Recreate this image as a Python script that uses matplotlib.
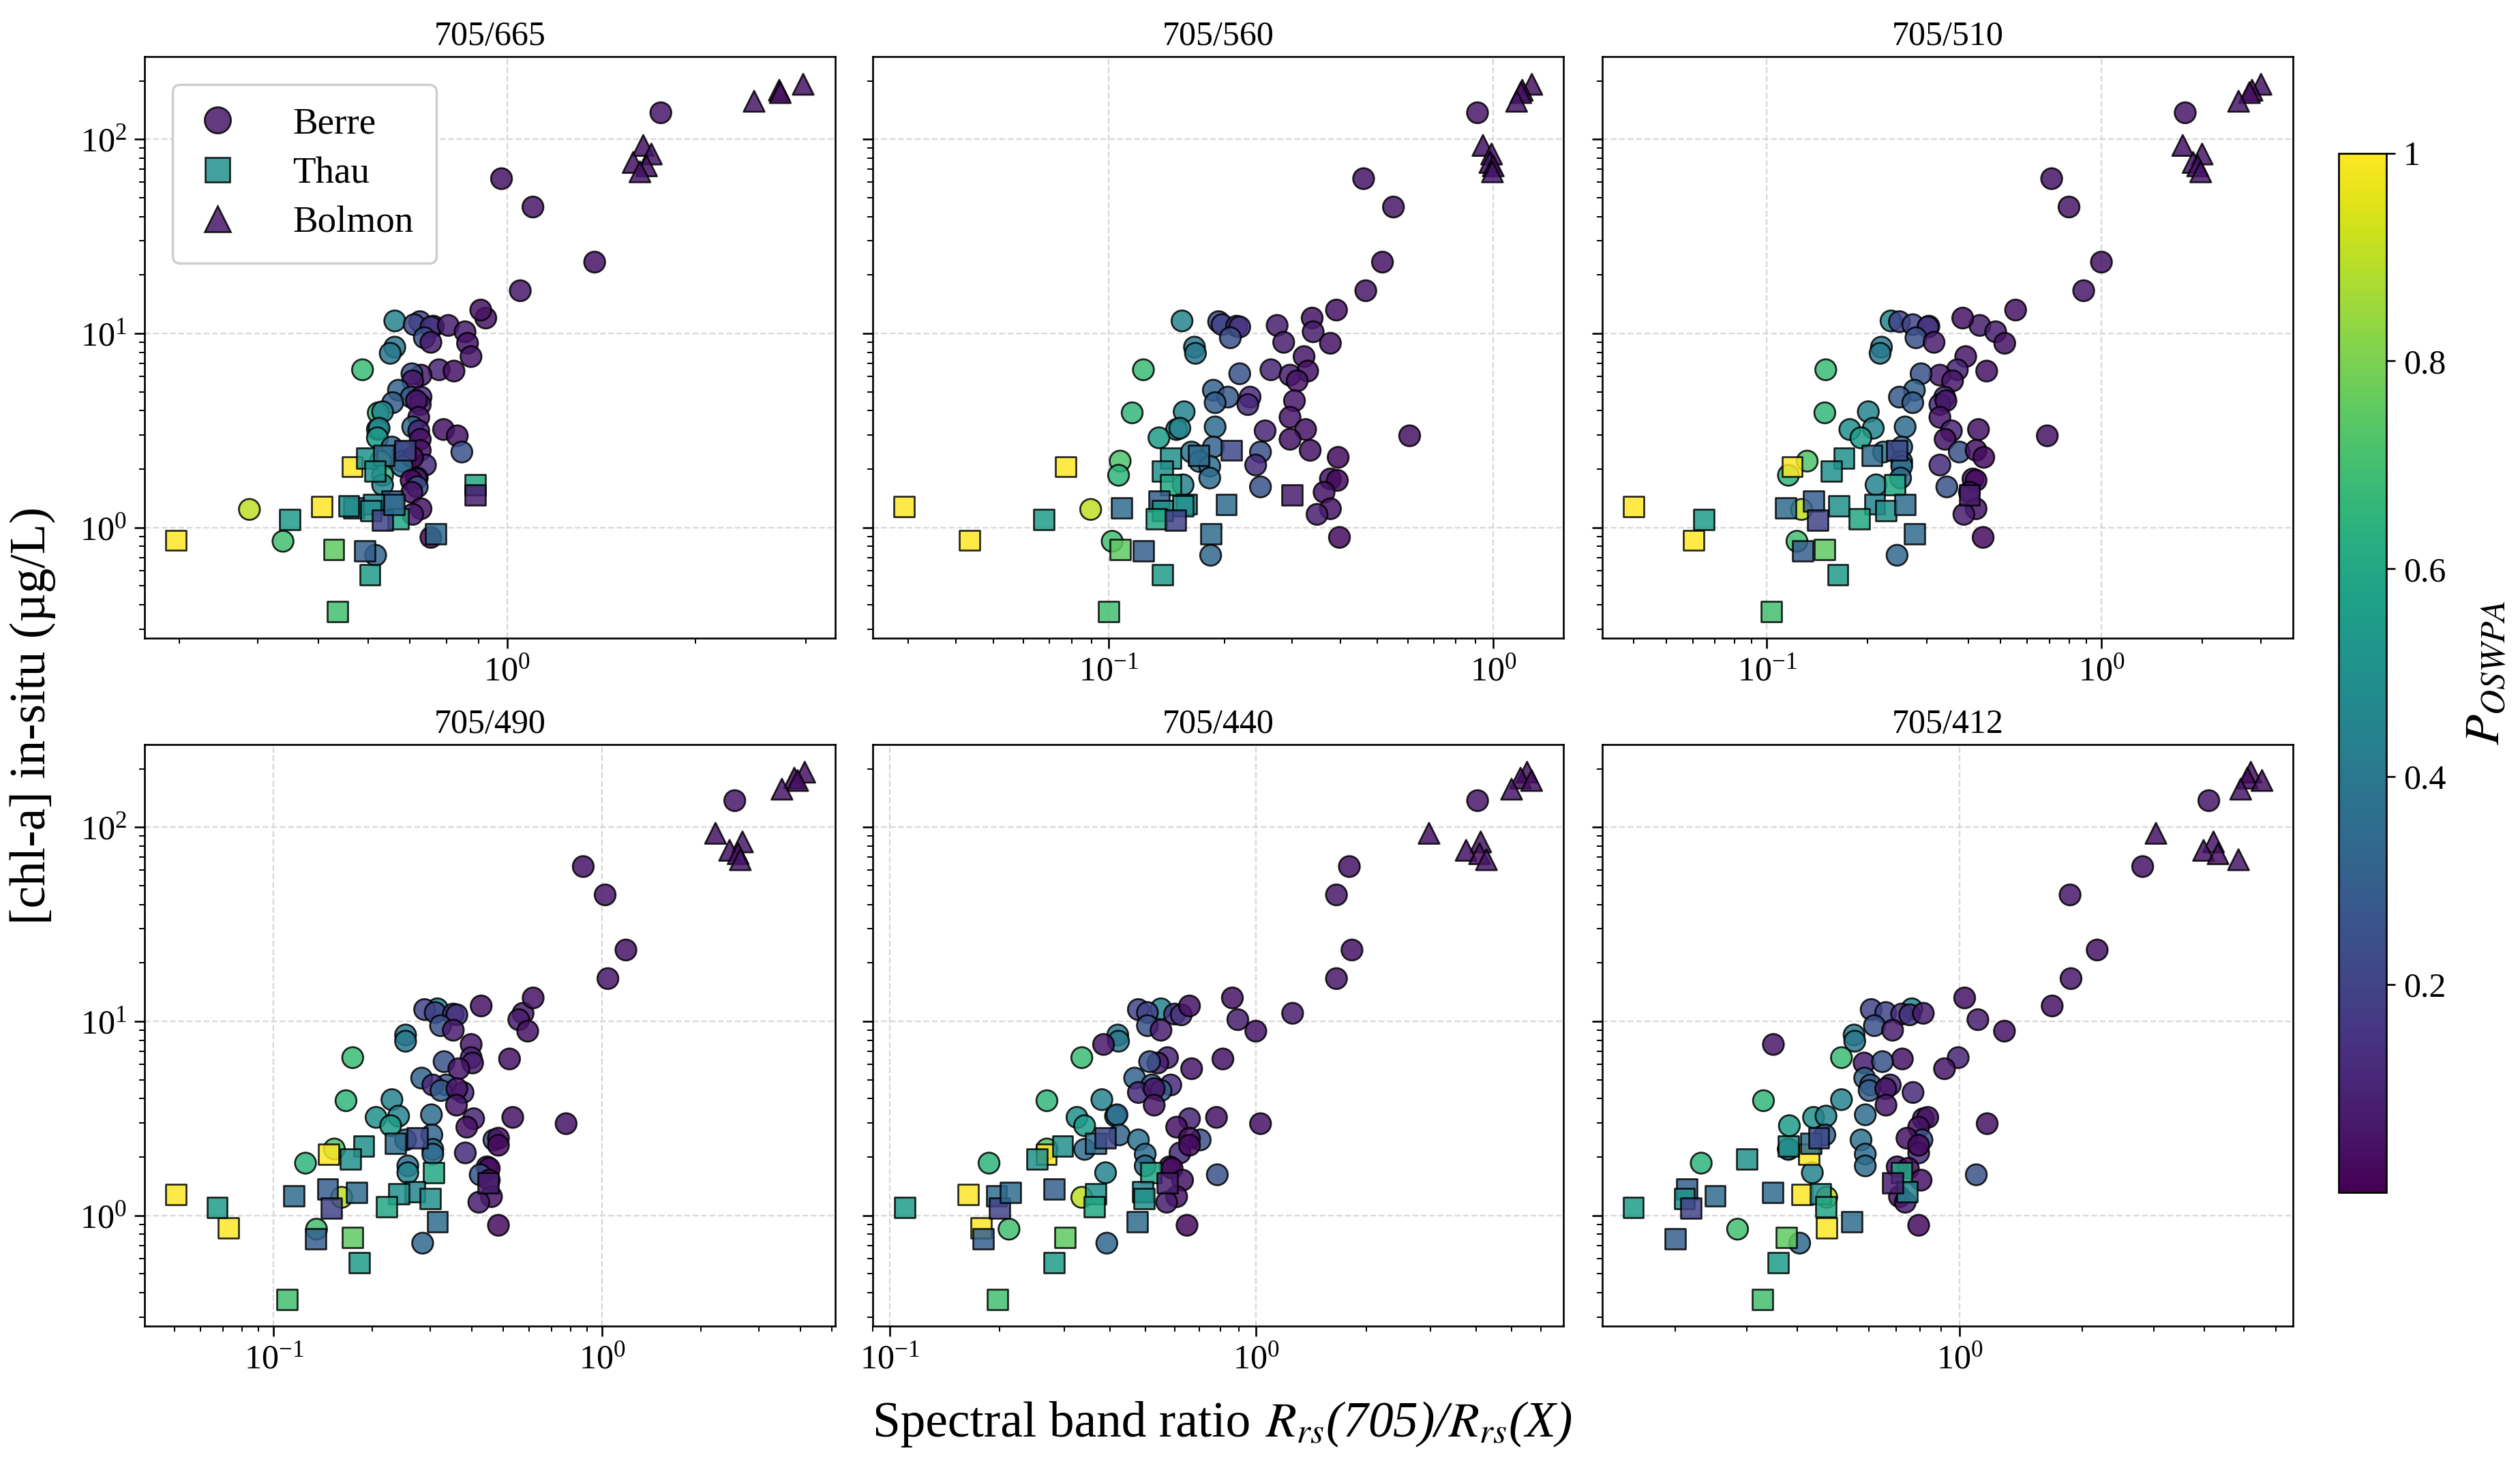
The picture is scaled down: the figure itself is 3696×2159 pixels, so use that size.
import numpy as np
import matplotlib
matplotlib.use("Agg")
import matplotlib.pyplot as plt
from matplotlib.lines import Line2D
from matplotlib.cm import ScalarMappable
from matplotlib.colors import Normalize
from matplotlib.ticker import NullFormatter

plt.rcParams['font.family'] = ['Liberation Serif', 'DejaVu Serif']
plt.rcParams['mathtext.fontset'] = 'stix'

bands = ['705/665', '705/560', '705/510', '705/490', '705/440', '705/412']

# Berre (circles)
berre_chl = [137, 62.7, 44.8, 23.3, 16.6,
             11.6, 11.5, 11.1, 10.9, 10.8, 11.0, 12.0, 10.2, 13.2, 9.5,
             9.0, 8.9, 8.5, 7.9, 7.6, 6.5, 6.5, 6.4, 6.1, 6.2,
             5.7, 5.1, 4.7, 4.7, 4.4, 4.3, 4.5, 3.9, 3.95, 3.7,
             3.2, 3.25, 3.3, 3.15, 3.2, 2.97, 2.9, 2.85, 2.6, 2.45,
             2.45, 2.5, 2.2, 2.19, 2.1, 2.3, 2.07, 1.86, 1.8, 1.78,
             1.75, 1.66, 1.62, 1.52, 1.24, 1.25, 1.17, 0.89, 0.85, 0.72]
berre_p = [0.06, 0.05, 0.06, 0.05, 0.06,
           0.45, 0.2, 0.2, 0.15, 0.15, 0.08, 0.05, 0.08, 0.05, 0.25,
           0.08, 0.05, 0.4, 0.4, 0.06, 0.68, 0.1, 0.05, 0.08, 0.25,
           0.06, 0.32, 0.28, 0.12, 0.3, 0.12, 0.06, 0.66, 0.45, 0.06,
           0.5, 0.45, 0.35, 0.1, 0.05, 0.05, 0.55, 0.05, 0.32, 0.38,
           0.25, 0.05, 0.72, 0.35, 0.12, 0.03, 0.35, 0.65, 0.35, 0.05,
           0.03, 0.45, 0.25, 0.05, 0.9, 0.05, 0.08, 0.03, 0.7, 0.33]
berre_665 = [1.76, 0.98, 1.10, 1.38, 1.05,
             0.662, 0.726, 0.711, 0.763, 0.756, 0.806, 0.925, 0.857, 0.908, 0.738,
             0.756, 0.865, 0.662, 0.651, 0.876, 0.588, 0.779, 0.823, 0.729, 0.705,
             0.707, 0.671, 0.703, 0.729, 0.657, 0.727, 0.717, 0.623, 0.633, 0.723,
             0.621, 0.625, 0.707, 0.723, 0.792, 0.833, 0.621, 0.727, 0.655, 0.682,
             0.847, 0.727, 0.628, 0.682, 0.741, 0.707, 0.680, 0.633, 0.719, 0.717,
             0.703, 0.633, 0.719, 0.705, 0.388, 0.729, 0.707, 0.756, 0.439, 0.617]
berre_560 = [0.91, 0.46, 0.55, 0.515, 0.466,
             0.155, 0.193, 0.197, 0.215, 0.219, 0.274, 0.338, 0.340, 0.391, 0.207,
             0.285, 0.377, 0.167, 0.168, 0.322, 0.123, 0.264, 0.329, 0.296, 0.219,
             0.309, 0.187, 0.204, 0.233, 0.189, 0.230, 0.304, 0.115, 0.157, 0.296,
             0.150, 0.153, 0.189, 0.255, 0.325, 0.606, 0.135, 0.296, 0.187, 0.164,
             0.248, 0.334, 0.107, 0.172, 0.241, 0.395, 0.183, 0.106, 0.183, 0.377,
             0.393, 0.156, 0.248, 0.363, 0.0897, 0.377, 0.348, 0.398, 0.102, 0.184]
berre_510 = [1.78, 0.71, 0.80, 1.0, 0.885,
             0.235, 0.249, 0.273, 0.305, 0.303, 0.433, 0.385, 0.483, 0.554, 0.279,
             0.316, 0.514, 0.220, 0.218, 0.393, 0.150, 0.371, 0.454, 0.329, 0.289,
             0.359, 0.276, 0.249, 0.340, 0.273, 0.329, 0.343, 0.149, 0.201, 0.329,
             0.177, 0.208, 0.259, 0.356, 0.429, 0.689, 0.191, 0.341, 0.253, 0.223,
             0.376, 0.422, 0.132, 0.253, 0.329, 0.445, 0.253, 0.116, 0.251, 0.413,
             0.422, 0.212, 0.345, 0.403, 0.127, 0.422, 0.388, 0.443, 0.123, 0.245]
berre_490 = [2.53, 0.875, 1.02, 1.18, 1.04,
             0.315, 0.288, 0.310, 0.352, 0.361, 0.574, 0.428, 0.557, 0.616, 0.322,
             0.352, 0.593, 0.252, 0.252, 0.399, 0.174, 0.399, 0.522, 0.403, 0.330,
             0.366, 0.282, 0.335, 0.305, 0.323, 0.377, 0.361, 0.166, 0.229, 0.36,
             0.205, 0.240, 0.302, 0.406, 0.534, 0.776, 0.227, 0.387, 0.303, 0.252,
             0.468, 0.483, 0.153, 0.305, 0.383, 0.483, 0.305, 0.125, 0.256, 0.446,
             0.453, 0.256, 0.425, 0.453, 0.161, 0.460, 0.421, 0.483, 0.135, 0.284]
berre_440 = [4.03, 1.80, 1.66, 1.83, 1.66,
             0.551, 0.478, 0.506, 0.600, 0.626, 1.26, 0.659, 0.893, 0.863, 0.506,
             0.551, 1.0, 0.420, 0.422, 0.384, 0.335, 0.574, 0.813, 0.540, 0.513,
             0.668, 0.467, 0.520, 0.586, 0.551, 0.478, 0.528, 0.269, 0.380, 0.528,
             0.325, 0.414, 0.418, 0.659, 0.781, 1.03, 0.341, 0.608, 0.424, 0.478,
             0.705, 0.659, 0.269, 0.341, 0.621, 0.659, 0.499, 0.187, 0.499, 0.582,
             0.591, 0.389, 0.785, 0.631, 0.335, 0.608, 0.571, 0.649, 0.212, 0.392]
berre_412 = [4.1, 2.82, 1.87, 2.18, 1.88,
             0.764, 0.607, 0.659, 0.721, 0.755, 0.815, 1.69, 1.11, 1.03, 0.618,
             0.685, 1.29, 0.551, 0.553, 0.349, 0.513, 0.993, 0.724, 0.583, 0.647,
             0.919, 0.585, 0.605, 0.676, 0.600, 0.769, 0.659, 0.330, 0.513, 0.66,
             0.438, 0.470, 0.587, 0.815, 0.836, 1.17, 0.382, 0.794, 0.467, 0.573,
             0.809, 0.743, 0.380, 0.380, 0.794, 0.794, 0.587, 0.232, 0.587, 0.703,
             0.749, 0.435, 1.10, 0.805, 0.472, 0.712, 0.736, 0.794, 0.285, 0.405]

# Thau (squares)
thau_chl = [2.06, 1.28, 0.86, 1.10, 1.26, 2.28, 2.35, 2.5, 1.95, 1.66, 1.37, 1.32,
            1.29, 1.22, 1.11, 1.09, 1.47, 1.31, 0.93, 0.77, 0.76, 0.57, 0.37]
thau_p = [1.0, 1.0, 1.0, 0.55, 0.35, 0.5, 0.35, 0.22, 0.5, 0.6, 0.3, 0.45,
          0.5, 0.5, 0.6, 0.2, 0.08, 0.35, 0.35, 0.75, 0.3, 0.55, 0.7]
thau_665 = [0.566, 0.506, 0.296, 0.450, 0.57, 0.597, 0.636, 0.688, 0.615, 0.890, 0.655, 0.612,
            0.559, 0.607, 0.671, 0.633, 0.89, 0.66, 0.770, 0.529, 0.593, 0.604, 0.536]
thau_560 = [0.0773, 0.0293, 0.0434, 0.0677, 0.108, 0.145, 0.171, 0.208, 0.138, 0.145, 0.135, 0.159,
            0.156, 0.138, 0.133, 0.149, 0.300, 0.202, 0.184, 0.107, 0.123, 0.138, 0.100]
thau_510 = [0.119, 0.0399, 0.0604, 0.0649, 0.114, 0.170, 0.206, 0.245, 0.156, 0.241, 0.138, 0.210,
            0.164, 0.227, 0.189, 0.142, 0.403, 0.259, 0.276, 0.149, 0.128, 0.163, 0.103]
thau_490 = [0.147, 0.0505, 0.0728, 0.0673, 0.115, 0.188, 0.235, 0.273, 0.171, 0.307, 0.146, 0.269,
            0.240, 0.300, 0.221, 0.150, 0.450, 0.179, 0.315, 0.174, 0.134, 0.182, 0.110]
thau_440 = [0.268, 0.164, 0.178, 0.110, 0.196, 0.297, 0.365, 0.388, 0.253, 0.517, 0.281, 0.491,
            0.365, 0.496, 0.362, 0.200, 0.574, 0.214, 0.474, 0.301, 0.180, 0.281, 0.197]
thau_412 = [0.427, 0.411, 0.472, 0.158, 0.251, 0.380, 0.432, 0.451, 0.300, 0.721, 0.214, 0.743,
            0.455, 0.211, 0.470, 0.219, 0.685, 0.348, 0.544, 0.375, 0.200, 0.359, 0.328]

# Bolmon (triangles)
bolmon_chl = [192, 179, 174, 157, 93, 84, 76, 73, 68]
bolmon_p = [0.05, 0.03, 0.04, 0.06, 0.05, 0.06, 0.05, 0.04, 0.06]
bolmon_665 = [2.97, 2.72, 2.73, 2.48, 1.65, 1.70, 1.59, 1.67, 1.63]
bolmon_560 = [1.26, 1.19, 1.18, 1.15, 0.94, 0.99, 0.98, 1.0, 0.995]
bolmon_510 = [3.0, 2.82, 2.77, 2.57, 1.75, 2.0, 1.88, 1.94, 1.98]
bolmon_490 = [4.13, 3.84, 3.93, 3.52, 2.21, 2.67, 2.44, 2.59, 2.63]
bolmon_440 = [5.5, 5.28, 5.66, 4.99, 2.97, 4.11, 3.75, 4.08, 4.26]
bolmon_412 = [5.2, 5.1, 5.54, 4.91, 3.04, 4.21, 3.98, 4.32, 4.85]

berre_x = [berre_665, berre_560, berre_510, berre_490, berre_440, berre_412]
thau_x = [thau_665, thau_560, thau_510, thau_490, thau_440, thau_412]
bolmon_x = [bolmon_665, bolmon_560, bolmon_510, bolmon_490, bolmon_440, bolmon_412]

xlims = [(0.264, 3.34), (0.0243, 1.52), (0.0322, 3.73),
         (0.0405, 5.11), (0.090, 6.9), (0.1325, 6.59)]

fig = plt.figure(figsize=(15.4, 8.996), dpi=240)
lefts = [0.0574, 0.3463, 0.6358]
bottoms = [0.5666, 0.0993]
w, h = 0.274, 0.395

sites = [(berre_x, berre_chl, berre_p, 'o', 85),
         (thau_x, thau_chl, thau_p, 's', 80),
         (bolmon_x, bolmon_chl, bolmon_p, '^', 85)]

axes = []
for i, band in enumerate(bands):
    ax = fig.add_axes([lefts[i % 3], bottoms[i // 3], w, h])
    for xs, chl, p, mk, size in sites:
        ax.scatter(xs[i], chl, c=p, cmap='viridis', vmin=0, vmax=1, marker=mk,
                   s=size, edgecolors='black', linewidths=0.8, alpha=0.85, zorder=3)
    ax.set_xscale('log')
    ax.set_yscale('log')
    ax.set_xlim(xlims[i])
    ax.set_ylim(0.27, 267)
    ax.grid(True, which='major', ls='--', color='#d8d8d8', lw=0.7)
    ax.set_axisbelow(True)
    ax.set_title(band, fontsize=15, pad=5)
    ax.tick_params(which='major', labelsize=15, length=4.5, width=0.8)
    ax.tick_params(which='minor', length=2.5, width=0.6)
    ax.xaxis.set_minor_formatter(NullFormatter())
    ax.yaxis.set_minor_formatter(NullFormatter())
    if i % 3 != 0:
        ax.tick_params(labelleft=False)
    axes.append(ax)

cmap = plt.get_cmap('viridis')
handles = [Line2D([], [], ls='', marker='o', markersize=11.5, markerfacecolor=cmap(0.06),
                  markeredgecolor='black', markeredgewidth=0.8, alpha=0.85),
           Line2D([], [], ls='', marker='s', markersize=11, markerfacecolor=cmap(0.5),
                  markeredgecolor='black', markeredgewidth=0.8, alpha=0.85),
           Line2D([], [], ls='', marker='^', markersize=11.5, markerfacecolor=cmap(0.06),
                  markeredgecolor='black', markeredgewidth=0.8, alpha=0.85)]
axes[0].legend(handles, ['Berre', 'Thau', 'Bolmon'], loc='upper left', fontsize=16.5,
               handlelength=1.2, handletextpad=1.4, labelspacing=0.4, borderpad=0.6,
               borderaxespad=0.75, framealpha=1, edgecolor='#cccccc', fancybox=True)

cax = fig.add_axes([0.928, 0.190, 0.019, 0.706])
cb = fig.colorbar(ScalarMappable(norm=Normalize(0, 1), cmap='viridis'), cax=cax)
cb.set_ticks([0.2, 0.4, 0.6, 0.8, 1.0])
cb.set_ticklabels(['0.2', '0.4', '0.6', '0.8', '1'])
cb.ax.tick_params(labelsize=15, length=4)
cb.set_label(r'$P_{OSWPA}$', fontsize=22, labelpad=8)

# x label: upright words followed by an italic ratio, centred as one line
xl_y = 0.024
t1 = fig.text(0, xl_y, 'Spectral band ratio', fontsize=22, ha='left', va='baseline')
t2 = fig.text(0, xl_y, r'$R_{rs}$(705)/$R_{rs}$(X)', fontsize=22, style='italic',
              ha='left', va='baseline')
renderer = fig.canvas.get_renderer()
fw = fig.bbox.width
w1 = t1.get_window_extent(renderer).width / fw
w2 = t2.get_window_extent(renderer).width / fw
gap = 0.006
x0 = 0.485 - (w1 + gap + w2) / 2
t1.set_x(x0)
t2.set_x(x0 + w1 + gap)

fig.text(0.013, 0.514, '[chl-a] in-situ (µg/L)', fontsize=22, rotation=90,
         ha='center', va='center')

fig.savefig('out.png', dpi=240)
